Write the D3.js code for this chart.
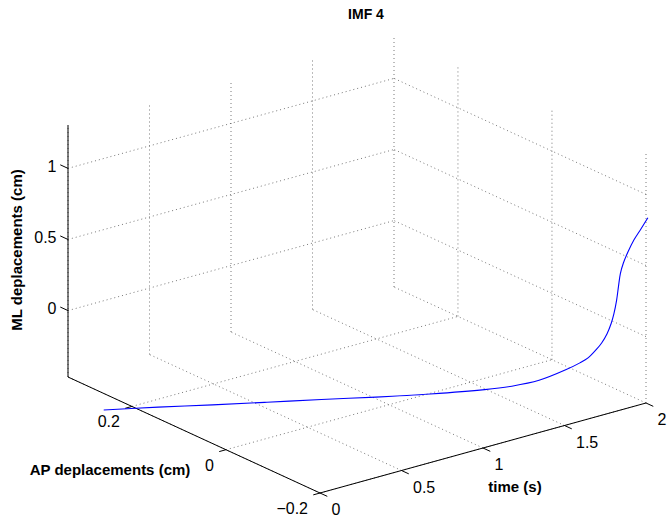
<!DOCTYPE html>
<html>
<head>
<meta charset="utf-8">
<script src="https://cdn.jsdelivr.net/npm/d3@7"></script>
<style>
  html, body { margin: 0; padding: 0; background: #fff; }
  svg { display: block; }
  text { font-family: "Liberation Sans", Arial, Helvetica, sans-serif; fill: #000; }
</style>
</head>
<body>
<svg id="chart" width="668" height="517"></svg>
<script>
// ---------------- data ----------------
const timeVals = [0, 0.2, 0.4, 0.6, 0.8, 1.0, 1.2, 1.4, 1.5, 1.6, 1.7, 1.75, 1.78, 1.81, 1.83, 1.85, 1.865, 1.875, 1.885, 1.892, 1.899, 1.91, 1.927, 1.949, 1.975, 2.0];
const apVals   = [0.26, 0.2136, 0.1672, 0.1208, 0.0744, 0.028, -0.0184, -0.0648, -0.088, -0.1112, -0.1344, -0.146, -0.153, -0.1599, -0.1646, -0.1692, -0.1727, -0.175, -0.1773, -0.179, -0.1806, -0.1831, -0.1871, -0.1922, -0.1982, -0.204];
const mlVals   = [-0.583, -0.556, -0.533, -0.507, -0.480, -0.456, -0.427, -0.389, -0.361, -0.316, -0.237, -0.188, -0.152, -0.093, -0.045, 0.021, 0.093, 0.161, 0.257, 0.357, 0.447, 0.520, 0.600, 0.685, 0.764, 0.842];

const timeTicks = [0, 0.5, 1, 1.5, 2];
const timeTickLabels = ["0", "0.5", "1", "1.5", "2"];
const apTicks = [-0.2, 0, 0.2];
const apTickLabels = ["\u22120.2", "0", "0.2"];
const mlTicks = [0, 0.5, 1];
const mlTickLabels = ["0", "0.5", "1"];

const timeDomain = [0, 2];
const apDomain = [-0.2, 0.336];
const mlDomain = [-0.467, 1.305];

const titleText = "IMF 4";
const xLabel = "time (s)";
const yLabel = "AP deplacements (cm)";
const zLabel = "ML deplacements (cm)";

// ---------------- layout ----------------
const svg = d3.select("#chart");
const origin = [320, 493];        // (t=0, ap=min, ml=min)
const vT = [326, -90];            // full time range
const vA = [-252, -116];          // full AP range
const vZ = [0, -252];             // full ML range

const sT = d3.scaleLinear().domain(timeDomain).range([0, 1]);
const sA = d3.scaleLinear().domain(apDomain).range([0, 1]);
const sZ = d3.scaleLinear().domain(mlDomain).range([0, 1]);

function proj(t, a, z) {
  const u = sT(t), v = sA(a), w = sZ(z);
  return [origin[0] + u * vT[0] + v * vA[0] + w * vZ[0],
          origin[1] + u * vT[1] + v * vA[1] + w * vZ[1]];
}
function unit(v) { const l = Math.hypot(v[0], v[1]); return [v[0] / l, v[1] / l]; }

const [t0, t1] = timeDomain, [a0, a1] = apDomain, [z0, z1] = mlDomain;

// ---------------- grid ----------------
const gridSegs = [];
// back-left wall (ap = max)
timeTicks.forEach(t => gridSegs.push([proj(t, a1, z0), proj(t, a1, z1)]));
mlTicks.forEach(z => gridSegs.push([proj(t0, a1, z), proj(t1, a1, z)]));
// back-right wall (t = max)
apTicks.forEach(a => gridSegs.push([proj(t1, a, z0), proj(t1, a, z1)]));
mlTicks.forEach(z => gridSegs.push([proj(t1, a0, z), proj(t1, a1, z)]));
// floor (ml = min)
timeTicks.forEach(t => gridSegs.push([proj(t, a0, z0), proj(t, a1, z0)]));
apTicks.forEach(a => gridSegs.push([proj(t0, a, z0), proj(t1, a, z0)]));

svg.append("g").selectAll("line").data(gridSegs).join("line")
  .attr("x1", d => d[0][0]).attr("y1", d => d[0][1])
  .attr("x2", d => d[1][0]).attr("y2", d => d[1][1])
  .attr("stroke", "#555").attr("stroke-width", 0.8)
  .attr("stroke-dasharray", "1,3");

// ---------------- axes lines ----------------
const axisSegs = [
  [proj(t0, a1, z0), proj(t0, a1, z1)],   // ML axis
  [proj(t0, a0, z0), proj(t0, a1, z0)],   // AP axis
  [proj(t0, a0, z0), proj(t1, a0, z0)]    // time axis
];
svg.append("g").selectAll("line").data(axisSegs).join("line")
  .attr("x1", d => d[0][0]).attr("y1", d => d[0][1])
  .attr("x2", d => d[1][0]).attr("y2", d => d[1][1])
  .attr("stroke", "#000").attr("stroke-width", 1);

// ---------------- ticks ----------------
const uA = unit(vA), uT = unit(vT);
const tickG = svg.append("g").attr("stroke", "#000").attr("stroke-width", 1);
const labG = svg.append("g").style("font-size", "16px");

// ML ticks
mlTicks.forEach((z, i) => {
  const p = proj(t0, a1, z);
  tickG.append("line").attr("x1", p[0]).attr("y1", p[1])
    .attr("x2", p[0] + uA[0] * 8.5).attr("y2", p[1] + uA[1] * 8.5);
  labG.append("text").attr("x", p[0] - 11.5).attr("y", p[1] + 3.5)
    .attr("text-anchor", "end").text(mlTickLabels[i]);
});
// AP ticks
apTicks.forEach((a, i) => {
  const p = proj(t0, a, z0);
  tickG.append("line").attr("x1", p[0]).attr("y1", p[1])
    .attr("x2", p[0] - uT[0] * 7).attr("y2", p[1] - uT[1] * 7);
  labG.append("text").attr("x", p[0] - 12).attr("y", p[1] + 21)
    .attr("text-anchor", "end").text(apTickLabels[i]);
});
// time ticks
timeTicks.forEach((t, i) => {
  const p = proj(t, a0, z0);
  tickG.append("line").attr("x1", p[0]).attr("y1", p[1])
    .attr("x2", p[0] - uA[0] * 8).attr("y2", p[1] - uA[1] * 8);
  labG.append("text").attr("x", p[0] + 11.5).attr("y", p[1] + 22)
    .attr("text-anchor", "start").text(timeTickLabels[i]);
});

// ---------------- curve ----------------
const pts = timeVals.map((t, i) => proj(t, apVals[i], mlVals[i]));
svg.append("path")
  .attr("d", d3.line().curve(d3.curveCatmullRom.alpha(0.5))(pts))
  .attr("fill", "none").attr("stroke", "#0000ff").attr("stroke-width", 1.1);

// ---------------- labels ----------------
svg.append("text").attr("x", 366).attr("y", 19).attr("text-anchor", "middle")
  .style("font-size", "14px").style("font-weight", "bold").text(titleText);
svg.append("text").attr("x", 515).attr("y", 492).attr("text-anchor", "middle")
  .style("font-size", "15px").style("font-weight", "bold").text(xLabel);
svg.append("text").attr("x", 110).attr("y", 475).attr("text-anchor", "middle")
  .style("font-size", "15px").style("font-weight", "bold").text(yLabel);
svg.append("text").attr("transform", "translate(22,250) rotate(-90)").attr("text-anchor", "middle")
  .style("font-size", "15px").style("font-weight", "bold").text(zLabel);
</script>
</body>
</html>
